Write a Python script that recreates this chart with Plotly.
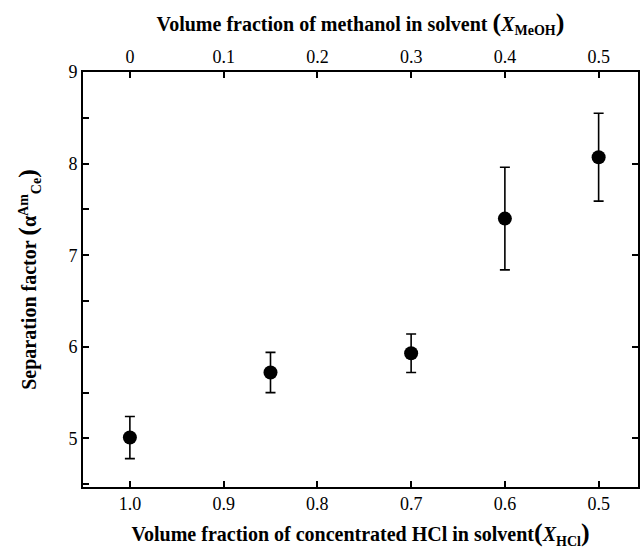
import plotly.graph_objects as go

# Data
x_hcl = [1.0, 0.85, 0.7, 0.6, 0.5]
x_meoh = [0.0, 0.15, 0.3, 0.4, 0.5]
sep_factor = [5.01, 5.72, 5.93, 7.40, 8.07]
sep_err = [0.23, 0.22, 0.21, 0.56, 0.48]

bottom_ticks = [1.0, 0.9, 0.8, 0.7, 0.6, 0.5]
bottom_labels = ["1.0", "0.9", "0.8", "0.7", "0.6", "0.5"]
top_ticks = [0, 0.1, 0.2, 0.3, 0.4, 0.5]
top_labels = ["0", "0.1", "0.2", "0.3", "0.4", "0.5"]
y_ticks = [5, 6, 7, 8, 9]

FONT = "Liberation Serif"
XR = [1.05, 0.458]
YR = [4.47, 9.0]

fig = go.Figure()
fig.add_trace(go.Scatter(
    x=x_hcl, y=sep_factor, mode="markers",
    marker=dict(color="black", size=14),
    error_y=dict(type="data", array=sep_err, color="black", thickness=1.6, width=5),
    showlegend=False, hoverinfo="skip",
))
fig.add_trace(go.Scatter(
    x=x_meoh, y=sep_factor, mode="markers", xaxis="x2", yaxis="y2",
    marker=dict(color="black", size=14, opacity=0),
    showlegend=False, hoverinfo="skip",
))

big = "<span style='font-size:26px'>(</span>"
bigc = "<span style='font-size:26px'>)</span>"

fig.update_layout(
    width=640, height=551,
    margin=dict(l=83, r=2, t=72, b=64),
    paper_bgcolor="white", plot_bgcolor="white",
    font=dict(family=FONT, color="black", size=17),
    xaxis=dict(
        range=XR, tickvals=bottom_ticks, ticktext=bottom_labels,
        ticks="inside", ticklen=6, tickwidth=1.5, tickcolor="black",
        showline=True, linecolor="black", linewidth=1.6,
        showgrid=False, zeroline=False,
        tickfont=dict(size=18, family=FONT),
        title=dict(text="<b>Volume fraction of concentrated HCl in solvent" + big + "<i>X</i><sub>HCl</sub>" + bigc + "</b>",
                   font=dict(size=20, family=FONT), standoff=14),
    ),
    xaxis2=dict(
        range=[1 - XR[0], 1 - XR[1]], overlaying="x", side="top", anchor="y",
        tickvals=top_ticks, ticktext=top_labels,
        ticks="inside", ticklen=6, tickwidth=1.5, tickcolor="black",
        showline=True, linecolor="black", linewidth=1.6,
        showgrid=False, zeroline=False,
        tickfont=dict(size=18, family=FONT),
        title=dict(text="<b>Volume fraction of methanol in solvent " + big + "<i>X</i><sub>MeOH</sub>" + bigc + "</b>",
                   font=dict(size=20, family=FONT), standoff=10),
    ),
    yaxis=dict(
        range=YR, tickvals=y_ticks,
        ticks="inside", ticklen=6, tickwidth=1.5, tickcolor="black",
        minor=dict(dtick=0.5, tick0=0, ticks="inside", ticklen=6, tickwidth=1.5, tickcolor="black", showgrid=False),
        showline=True, linecolor="black", linewidth=2,
        showgrid=False, zeroline=False,
        tickfont=dict(size=18, family=FONT),
        title=dict(text="<b>Separation factor " + big + "α<sup>Am</sup><sub>Ce</sub>" + bigc + "</b>",
                   font=dict(size=20, family=FONT), standoff=26),
    ),
    yaxis2=dict(
        range=YR, overlaying="y", side="right", anchor="x",
        tickvals=[5, 6, 7, 8], showticklabels=False,
        ticks="inside", ticklen=6, tickwidth=1.5, tickcolor="black",
        showline=True, linecolor="black", linewidth=1.6,
        showgrid=False, zeroline=False,
    ),
)

fig.write_html("out.html")
